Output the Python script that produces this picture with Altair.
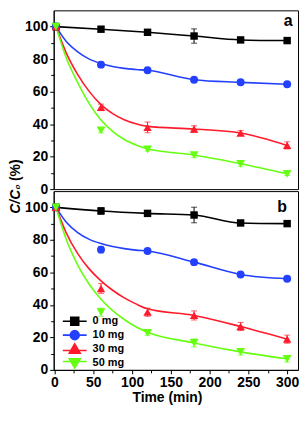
import altair as alt
import pandas as pd

FONT = "Liberation Sans"

series = ["0 mg", "10 mg", "30 mg", "50 mg"]
colors = ["#000000", "#2340ff", "#ff1b2b", "#66ff11"]
marker_shapes = ["square", "circle", "triangle-up", "triangle-down"]
marker_sizes = [56, 81, 110, 110]
legend_paths = [
    "M-2.4,0H2.4M-0.8,-0.8H0.8V0.8H-0.8Z",
    "M-2.4,0H2.4M-0.9,0A0.9,0.9 0 1,0 0.9,0A0.9,0.9 0 1,0 -0.9,0Z",
    "M-2.4,0.3H2.4M0,-1.05L1.1,0.85L-1.1,0.85Z",
    "M-2.4,-0.3H2.4M0,1.05L1.1,-0.85L-1.1,-0.85Z",
]

point_times = [2, 60, 120, 180, 240, 300]
fit_times = [2, 15, 30, 45, 60, 75, 90, 105, 120, 180, 240, 300]

# panel a
a_points = {
    "0 mg": [100, 98.4, 96.5, 94.2, 91.8, 91.4],
    "10 mg": [100, 76.6, 73.1, 67.3, 65.7, 64.5],
    "30 mg": [100, 50.3, 38.0, 37.0, 34.5, 26.9],
    "50 mg": [100, 36.2, 24.4, 21.0, 15.6, 9.4],
}
a_errors = {
    "0 mg": [0, 1.0, 1.0, 4.4, 1.0, 1.0],
    "10 mg": [0, 1.5, 1.0, 1.0, 1.0, 1.0],
    "30 mg": [0, 2.0, 3.3, 2.0, 1.5, 2.2],
    "50 mg": [0, 1.5, 1.0, 1.6, 1.5, 1.0],
}
a_fit = {
    "10 mg": [100, 91.0, 84.5, 80.0, 77.3, 75.5, 74.3, 73.6, 73.1, 67.3, 65.7, 64.5],
    "30 mg": [100, 84.0, 70.5, 60.0, 52.0, 46.5, 42.7, 40.2, 38.6, 37.0, 34.5, 26.9],
    "50 mg": [100, 81.0, 65.5, 52.5, 42.5, 35.5, 30.5, 27.2, 24.8, 21.0, 15.6, 9.4],
}

# panel b
b_points = {
    "0 mg": [100, 97.8, 96.3, 95.3, 90.4, 90.0],
    "10 mg": [100, 74.0, 73.1, 66.3, 58.7, 56.1],
    "30 mg": [100, 50.1, 35.5, 33.5, 26.7, 18.9],
    "50 mg": [100, 35.5, 22.8, 16.6, 11.1, 6.8],
}
b_errors = {
    "0 mg": [0, 2.0, 1.0, 4.8, 1.0, 1.0],
    "10 mg": [0, 2.0, 1.0, 1.5, 1.0, 1.0],
    "30 mg": [0, 3.0, 2.5, 2.8, 2.5, 2.5],
    "50 mg": [0, 2.5, 1.5, 2.5, 2.0, 2.0],
}
b_fit = {
    "10 mg": [100, 91.0, 84.5, 80.3, 77.7, 75.9, 74.6, 73.7, 73.1, 66.3, 58.7, 56.1],
    "30 mg": [100, 84.5, 71.5, 62.0, 54.8, 49.0, 44.3, 40.6, 37.6, 33.5, 26.7, 18.9],
    "50 mg": [100, 80.5, 64.5, 52.5, 43.5, 36.5, 31.0, 26.5, 23.2, 16.6, 11.1, 6.8],
}

x_major = [0, 50, 100, 150, 200, 250, 300]
x_minor = [25, 75, 125, 175, 225, 275]
y_major = [0, 20, 40, 60, 80, 100]
y_minor = [10, 30, 50, 70, 90]

W, H = 246, 180
X_DOMAIN = [-1, 314]
Y_DOMAIN = [0, 110]


def build_frames(points, errors, fit):
    prow, lrow = [], []
    for s in series:
        for t, v, e in zip(point_times, points[s], errors[s]):
            prow.append({"series": s, "t": t, "v": v, "lo": v - e, "hi": v + e, "e": e})
        if s in fit:
            for t, v in zip(fit_times, fit[s]):
                lrow.append({"series": s, "t": t, "v": v})
        else:
            for t, v in zip(point_times, points[s]):
                lrow.append({"series": s, "t": t, "v": v})
    return pd.DataFrame(prow), pd.DataFrame(lrow)


color_scale = alt.Scale(domain=series, range=colors)
xs = alt.Scale(domain=X_DOMAIN, nice=False, zero=False)
ys = alt.Scale(domain=Y_DOMAIN, nice=False)


def panel(points, errors, fit, label, label_x, label_y, bottom, ytitle, ystyle, title_y, with_legend):
    pdf, ldf = build_frames(points, errors, fit)
    edf = pdf[pdf["e"] > 0]

    if bottom:
        x_axis_major = alt.Axis(values=x_major, tickSize=4, labelPadding=2, labelFontSize=14,
                                labelFontWeight="bold", title="Time (min)", titleFontSize=14,
                                titleFontWeight="bold", titlePadding=1, titleX=114,
                                grid=False, labelFlush=False)
        x_axis_minor = alt.Axis(values=x_minor, tickSize=3, labels=False, domain=False,
                                title=None, grid=False, orient="bottom")
    else:
        x_axis_major = None
        x_axis_minor = None

    y_axis_major = alt.Axis(values=y_major, tickSize=4, labelPadding=2, labelFontSize=14,
                            labelFontWeight="bold", title=ytitle, titleFontSize=14,
                            titleFontWeight="bold", titleFontStyle=ystyle, titleAngle=270,
                            titleX=-31, titleY=title_y, titleAlign="center",
                            titleBaseline="bottom", grid=False, orient="left")
    y_axis_minor = alt.Axis(values=y_minor, tickSize=3, labels=False, domain=False,
                            title=None, grid=False, orient="left")

    lines = alt.Chart(ldf).mark_line(interpolate="monotone", strokeWidth=1.6).encode(
        x=alt.X("t:Q", scale=xs, axis=x_axis_major),
        y=alt.Y("v:Q", scale=ys, axis=y_axis_major),
        color=alt.Color("series:N", scale=color_scale, legend=None),
        detail="series:N",
    )
    rules = alt.Chart(edf).mark_rule(strokeWidth=1).encode(
        x=alt.X("t:Q", scale=xs, axis=None),
        y=alt.Y("lo:Q", scale=ys, axis=None),
        y2="hi:Q",
        color=alt.Color("series:N", scale=color_scale, legend=None),
    )
    caps_lo = alt.Chart(edf).mark_tick(orient="horizontal", size=6, thickness=1).encode(
        x=alt.X("t:Q", scale=xs, axis=None),
        y=alt.Y("lo:Q", scale=ys, axis=None),
        color=alt.Color("series:N", scale=color_scale, legend=None),
    )
    caps_hi = alt.Chart(edf).mark_tick(orient="horizontal", size=6, thickness=1).encode(
        x=alt.X("t:Q", scale=xs, axis=None),
        y=alt.Y("hi:Q", scale=ys, axis=None),
        color=alt.Color("series:N", scale=color_scale, legend=None),
    )
    pts = alt.Chart(pdf).mark_point(filled=True, opacity=1).encode(
        x=alt.X("t:Q", scale=xs, axis=x_axis_minor),
        y=alt.Y("v:Q", scale=ys, axis=y_axis_minor),
        color=alt.Color("series:N", scale=color_scale, legend=None),
        shape=alt.Shape("series:N", scale=alt.Scale(domain=series, range=marker_shapes), legend=None),
        size=alt.Size("series:N", scale=alt.Scale(domain=series, range=marker_sizes), legend=None),
    )
    txt = alt.Chart(pd.DataFrame({"label": [label]})).mark_text(
        font=FONT, fontSize=16, fontWeight="bold", align="center", baseline="alphabetic"
    ).encode(x=alt.value(label_x), y=alt.value(label_y), text="label:N")

    layers = [lines, rules, caps_lo, caps_hi, pts, txt]

    if with_legend:
        leg = dict(orient="none", legendX=15.2, legendY=125, title=None, symbolSize=100,
                   symbolStrokeWidth=1.6, symbolOpacity=1, labelFont=FONT, labelFontSize=11,
                   labelFontWeight="bold", labelOffset=12, rowPadding=-8,
                   padding=0, labelColor="#000000")
        legend_layer = alt.Chart(pdf).mark_point(filled=True, opacity=0).encode(
            x=alt.X("t:Q", scale=xs, axis=None),
            y=alt.Y("v:Q", scale=ys, axis=None),
            fill=alt.Fill("series:N", scale=alt.Scale(domain=series, range=colors),
                          legend=alt.Legend(**leg)),
            stroke=alt.Stroke("series:N", scale=alt.Scale(domain=series, range=colors),
                              legend=alt.Legend(**leg)),
            shape=alt.Shape("series:N", scale=alt.Scale(domain=series, range=legend_paths),
                            legend=alt.Legend(**leg)),
        )
        layers.append(legend_layer)

    return alt.layer(*layers).resolve_axis(x="independent", y="independent").resolve_scale(
        shape="independent", fill="independent", stroke="independent"
    ).properties(width=W, height=H)


pa = panel(a_points, a_errors, a_fit, "a", 236, 16, False, "(%)", "normal", 160.5, False)
pb = panel(b_points, b_errors, b_fit, "b", 230, 21, True, "C/C\u2080", "italic", 7.5, True)

chart = alt.vconcat(pa, pb, spacing=2, bounds="flush").resolve_scale(
    color="independent", shape="independent", size="independent",
    fill="independent", stroke="independent"
).properties(
    padding={"left": 0, "top": 0, "right": 0, "bottom": 0},
).configure(
    font=FONT,
).configure_view(
    stroke="#000000", strokeWidth=1
).configure_axis(
    labelFont=FONT, titleFont=FONT, labelColor="#000000", titleColor="#000000",
    domainColor="#000000", tickColor="#000000", domainWidth=1, tickWidth=1,
)

chart.save("out.html", embed_options={"renderer": "svg", "actions": False})
